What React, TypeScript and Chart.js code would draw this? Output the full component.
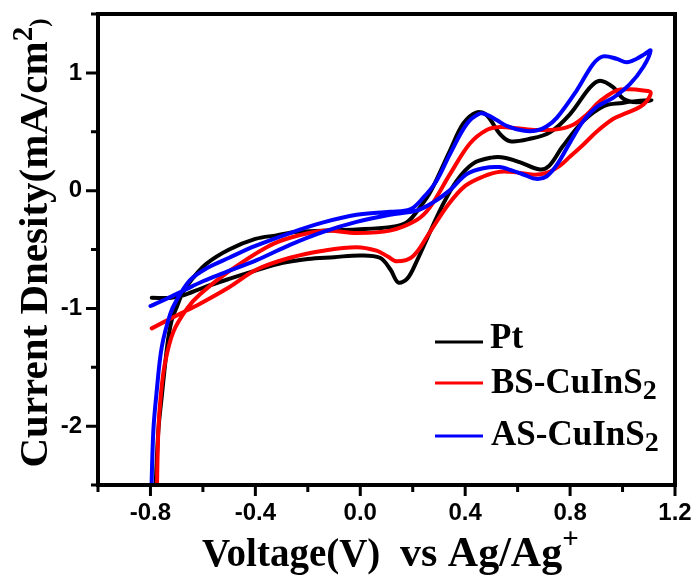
import React, { useEffect, useRef } from 'react';
import { Chart, registerables } from 'chart.js';

Chart.register(...registerables);

// ---- Data ----
const ptVoltage = [-0.795, -0.72, -0.675, -0.6, -0.5, -0.4, -0.3, -0.2, -0.1, 0.0, 0.075, 0.115, 0.145, 0.18, 0.215, 0.26, 0.31, 0.368, 0.43, 0.5, 0.55, 0.61, 0.685, 0.72, 0.77, 0.85, 0.93, 1.0, 1.05, 1.11, 1.054, 1.003, 0.965, 0.914, 0.876, 0.8, 0.723, 0.647, 0.571, 0.533, 0.482, 0.444, 0.393, 0.342, 0.27, 0.228, 0.177, 0.113, -0.014, -0.14, -0.24, -0.32, -0.4, -0.5, -0.586, -0.637, -0.675, -0.7, -0.719, -0.735, -0.757, -0.77, -0.782];
const ptCurrent = [-0.91, -0.91, -0.89, -0.825, -0.75, -0.68, -0.615, -0.58, -0.565, -0.55, -0.57, -0.67, -0.78, -0.745, -0.6, -0.38, -0.14, 0.085, 0.23, 0.28, 0.28, 0.24, 0.18, 0.21, 0.37, 0.59, 0.72, 0.745, 0.76, 0.77, 0.75, 0.78, 0.877, 0.934, 0.877, 0.65, 0.495, 0.44, 0.42, 0.48, 0.64, 0.665, 0.57, 0.34, 0.0, -0.14, -0.27, -0.31, -0.33, -0.34, -0.35, -0.38, -0.41, -0.5, -0.62, -0.74, -0.86, -0.99, -1.1, -1.3, -1.75, -2.04, -2.6];

const bsVoltage = [-0.795, -0.7, -0.611, -0.5, -0.395, -0.268, -0.141, -0.014, 0.062, 0.105, 0.139, 0.2, 0.266, 0.335, 0.4, 0.469, 0.533, 0.596, 0.66, 0.71, 0.76, 0.8, 0.85, 0.901, 0.965, 1.016, 1.066, 1.092, 1.107, 1.079, 1.028, 0.977, 0.914, 0.863, 0.812, 0.749, 0.672, 0.596, 0.533, 0.482, 0.418, 0.342, 0.266, 0.215, 0.113, -0.014, -0.141, -0.268, -0.357, -0.497, -0.611, -0.66, -0.713, -0.745, -0.761, -0.77, -0.776];
const bsCurrent = [-1.17, -1.06, -0.96, -0.82, -0.67, -0.57, -0.51, -0.48, -0.51, -0.56, -0.6, -0.56, -0.35, -0.12, 0.04, 0.12, 0.16, 0.155, 0.135, 0.15, 0.21, 0.29, 0.39, 0.5, 0.61, 0.66, 0.71, 0.76, 0.835, 0.85, 0.86, 0.85, 0.76, 0.645, 0.56, 0.52, 0.515, 0.53, 0.54, 0.515, 0.4, 0.14, -0.14, -0.25, -0.34, -0.36, -0.34, -0.4, -0.48, -0.68, -0.88, -1.0, -1.2, -1.47, -1.75, -2.04, -2.6];

const asVoltage = [-0.8, -0.74, -0.675, -0.6, -0.522, -0.395, -0.268, -0.141, -0.014, 0.113, 0.215, 0.278, 0.34, 0.406, 0.469, 0.53, 0.58, 0.63, 0.67, 0.71, 0.75, 0.8, 0.85, 0.901, 0.965, 1.028, 1.079, 1.107, 1.085, 1.054, 1.016, 0.977, 0.926, 0.888, 0.825, 0.75, 0.71, 0.672, 0.62, 0.558, 0.52, 0.482, 0.456, 0.406, 0.342, 0.29, 0.24, 0.19, 0.113, -0.014, -0.141, -0.268, -0.4, -0.5, -0.586, -0.649, -0.7, -0.725, -0.757, -0.776, -0.789, -0.797];
const asCurrent = [-0.98, -0.92, -0.85, -0.77, -0.7, -0.59, -0.46, -0.35, -0.265, -0.205, -0.17, -0.1, 0.0, 0.14, 0.19, 0.2, 0.17, 0.13, 0.1, 0.12, 0.22, 0.41, 0.59, 0.71, 0.79, 0.905, 1.05, 1.19, 1.16, 1.12, 1.09, 1.12, 1.14, 1.075, 0.85, 0.62, 0.545, 0.51, 0.51, 0.55, 0.6, 0.645, 0.655, 0.566, 0.31, 0.08, -0.06, -0.16, -0.18, -0.205, -0.27, -0.36, -0.47, -0.57, -0.66, -0.76, -0.93, -1.05, -1.33, -1.7, -2.04, -2.6];

const xTickValues = [-1.0, -0.8, -0.6, -0.4, -0.2, 0.0, 0.2, 0.4, 0.6, 0.8, 1.0, 1.2];
const xTickLabels = ['-0.8', '-0.4', '0.0', '0.4', '0.8', '1.2'];
const yTickValues = [-2.5, -2.0, -1.5, -1.0, -0.5, 0.0, 0.5, 1.0, 1.5];
const yTickLabels = ['-2', '-1', '0', '1'];

const seriesNames = ['Pt', 'BS-CuInS', 'AS-CuInS'];
const seriesSubscripts = ['', '2', '2'];
const seriesColors = ['#000000', '#ff0000', '#0000ff'];

const xTitleFirst = 'Voltage(V)';
const xTitleSecond = 'vs Ag/Ag';
const xTitleSup = '+';
const yTitleMain = 'Current Dnesity(mA/cm';
const yTitleSup = '2';
const yTitleEnd = ')';

const SERIF = '"Liberation Serif", "Times New Roman", serif';

type Part = { t: string; font: string; dy: number };

function partsWidth(ctx: CanvasRenderingContext2D, parts: Part[]) {
  let w = 0;
  for (const p of parts) {
    ctx.font = p.font;
    w += ctx.measureText(p.t).width;
  }
  return w;
}

function drawParts(ctx: CanvasRenderingContext2D, parts: Part[], x: number, y: number) {
  let cx = x;
  for (const p of parts) {
    ctx.font = p.font;
    ctx.fillText(p.t, cx, y + p.dy);
    cx += ctx.measureText(p.t).width;
  }
}

const decorPlugin = {
  id: 'decor',
  afterDraw(chart: any) {
    const { ctx, chartArea: a } = chart;
    const xs = chart.scales.x;
    const ys = chart.scales.y;
    ctx.save();
    ctx.strokeStyle = '#000';
    ctx.fillStyle = '#000';
    // frame
    ctx.lineWidth = 4;
    ctx.strokeRect(a.left, a.top, a.right - a.left, a.bottom - a.top);
    // ticks
    ctx.lineWidth = 3;
    ctx.beginPath();
    xTickValues.forEach((v) => {
      const px = xs.getPixelForValue(v);
      const major = xTickLabels.includes(v.toFixed(1));
      ctx.moveTo(px, a.bottom);
      ctx.lineTo(px, a.bottom + (major ? 11 : 7));
    });
    yTickValues.forEach((v) => {
      const py = ys.getPixelForValue(v);
      const major = Number.isInteger(v);
      ctx.moveTo(a.left, py);
      ctx.lineTo(a.left - (major ? 12 : 7), py);
    });
    ctx.stroke();

    // x title
    ctx.textBaseline = 'alphabetic';
    ctx.textAlign = 'left';
    drawParts(ctx, [{ t: xTitleFirst, font: `bold 39px ${SERIF}`, dy: 0 }], 202, 566);
    drawParts(ctx, [
      { t: xTitleSecond, font: `bold 42px ${SERIF}`, dy: 0 },
      { t: xTitleSup, font: `bold 29px ${SERIF}`, dy: -18 },
    ], 400, 566);

    // y title (rotated)
    const yParts: Part[] = [
      { t: yTitleMain, font: `bold 41px ${SERIF}`, dy: 0 },
      { t: yTitleSup, font: `bold 29px ${SERIF}`, dy: -15 },
      { t: yTitleEnd, font: `bold 25px ${SERIF}`, dy: 0 },
    ];
    ctx.save();
    ctx.translate(47, 243);
    ctx.rotate(-Math.PI / 2);
    const w = partsWidth(ctx, yParts);
    drawParts(ctx, yParts, -w / 2, 0);
    ctx.restore();

    // legend
    const lineY = [342, 383, 436];
    const textY = [348, 393, 445];
    seriesNames.forEach((name, i) => {
      ctx.strokeStyle = seriesColors[i];
      ctx.lineWidth = 3;
      ctx.beginPath();
      ctx.moveTo(435, lineY[i]);
      ctx.lineTo(483, lineY[i]);
      ctx.stroke();
      ctx.fillStyle = '#000';
      const parts: Part[] = [{ t: name, font: `bold 35px ${SERIF}`, dy: 0 }];
      if (seriesSubscripts[i]) parts.push({ t: seriesSubscripts[i], font: `bold 28px ${SERIF}`, dy: 6 });
      drawParts(ctx, parts, i === 0 ? 490 : 491, textY[i]);
    });
    ctx.restore();
  },
};

export default function App() {
  const ref = useRef<HTMLCanvasElement>(null);
  useEffect(() => {
    const toPts = (xv: number[], yv: number[]) => xv.map((x, i) => ({ x, y: yv[i] }));
    const common = {
      showLine: true,
      pointRadius: 0,
      pointHoverRadius: 0,
      borderWidth: 4,
      tension: 0.35,
      fill: false,
      borderJoinStyle: 'round' as const,
      borderCapStyle: 'round' as const,
    };
    const tickFont = { family: '"Liberation Sans", Arial, sans-serif', size: 24, weight: 'bold' as const };
    const chart = new Chart(ref.current!, {
      type: 'scatter',
      data: {
        datasets: [
          { ...common, label: 'Pt', data: toPts(ptVoltage, ptCurrent), borderColor: seriesColors[0], backgroundColor: seriesColors[0], order: 3 },
          { ...common, label: 'BS-CuInS2', data: toPts(bsVoltage, bsCurrent), borderColor: seriesColors[1], backgroundColor: seriesColors[1], order: 2 },
          { ...common, label: 'AS-CuInS2', data: toPts(asVoltage, asCurrent), borderColor: seriesColors[2], backgroundColor: seriesColors[2], order: 1 },
        ],
      },
      options: {
        animation: false,
        responsive: false,
        devicePixelRatio: 1,
        layout: { padding: { top: 14, right: 23, left: 0, bottom: 0 } },
        plugins: { legend: { display: false }, tooltip: { enabled: false } },
        events: [],
        scales: {
          x: {
            type: 'linear',
            min: -1.0,
            max: 1.2,
            afterBuildTicks: (s: any) => { s.ticks = xTickValues.map((v) => ({ value: v })); },
            afterFit: (s: any) => { s.height = 91; s.paddingLeft = 0; s.paddingRight = 0; },
            grid: { display: false, drawTicks: false },
            border: { display: false },
            ticks: {
              padding: 14,
              color: '#000',
              font: tickFont,
              autoSkip: false,
              maxRotation: 0,
              callback: (v: any) => {
                const s = Number(v).toFixed(1);
                return xTickLabels.includes(s) ? s : '';
              },
            },
          },
          y: {
            type: 'linear',
            min: -2.5,
            max: 1.5,
            afterBuildTicks: (s: any) => { s.ticks = yTickValues.map((v) => ({ value: v })); },
            afterFit: (s: any) => { s.width = 98; s.paddingTop = 0; s.paddingBottom = 0; },
            grid: { display: false, drawTicks: false },
            border: { display: false },
            ticks: {
              padding: 16,
              color: '#000',
              font: tickFont,
              autoSkip: false,
              callback: (v: any) => {
                const n = Number(v);
                const s = Number.isInteger(n) ? String(n) : '';
                return yTickLabels.includes(s) ? s : '';
              },
            },
          },
        },
      },
      plugins: [decorPlugin],
    });
    return () => chart.destroy();
  }, []);
  return (
    <div style={{ position: 'absolute', left: 0, top: 0, width: 698, height: 576, background: '#fff' }}>
      <canvas ref={ref} width={698} height={576} style={{ display: 'block', width: 698, height: 576 }} />
    </div>
  );
}
